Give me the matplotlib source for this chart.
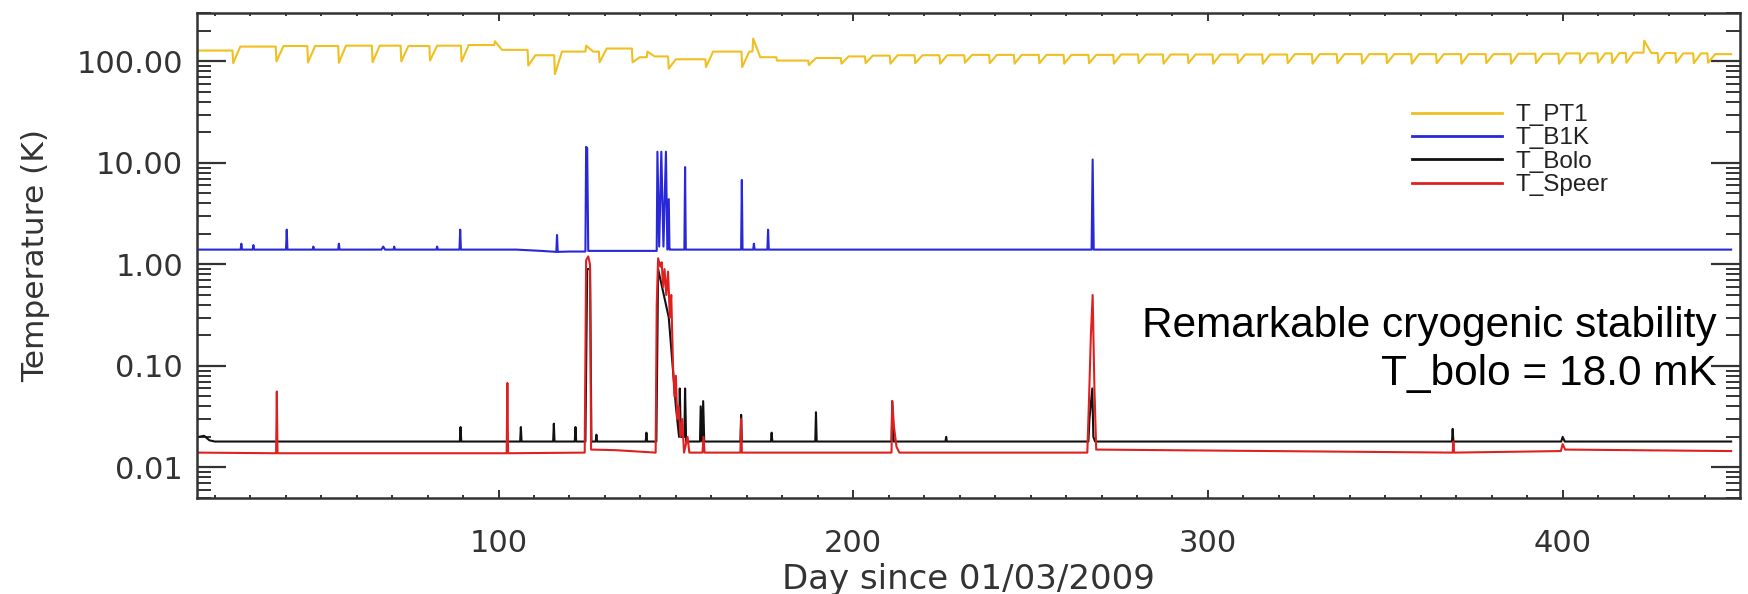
import matplotlib
matplotlib.use("Agg")
import matplotlib.pyplot as plt
from matplotlib.ticker import FixedLocator, LogLocator, NullFormatter, FuncFormatter

# ---- data (day since 01/03/2009, temperature in K) ----

# T_PT1: plateau levels between the sharp dips / bumps of the pulse tube
pt1_event_day = [25.2, 37.4, 46.3, 55.0, 64.5, 72.6, 80.7, 89.6, 99.0, 108.4,
                 115.9, 124.7, 128.5, 137.8, 142.0, 148.0, 158.5, 168.7, 171.8, 178.5,
                 187.5, 196.7, 203.5, 210.5, 217.5, 224.5, 231.5, 238.5, 245.5, 252.5,
                 259.5, 266.5, 273.5, 280.5, 287.5, 294.5, 301.5, 308.5, 315.5, 322.5,
                 329.5, 336.5, 343.5, 350.5, 357.5, 364.5, 371.5, 378.5, 385.5, 392.5,
                 399.0, 405.0, 410.0, 414.0, 418.0, 423.0, 427.0, 432.0, 437.0, 441.0]
pt1_event_k = [96, 100, 98, 97, 98, 100, 102, 100, 158, 91,
               75, 143, 98, 98, 125, 85, 88, 88, 168, 102,
               92, 95, 96, 95, 96, 95, 97, 96, 95, 96,
               95, 96, 95, 96, 95, 96, 95, 96, 95, 96,
               95, 96, 95, 96, 95, 96, 95, 96, 95, 96,
               95, 96, 97, 96, 97, 160, 96, 97, 96, 97]
pt1_plateau_k = [128, 140, 142, 142, 143, 143, 142, 143, 145, 130,
                 115, 125, 125, 134, 110, 112, 105, 125, 125, 110,
                 102, 108, 112, 114, 115, 115, 115, 116, 116, 116,
                 116, 116, 116, 117, 117, 117, 117, 117, 117, 117,
                 118, 118, 118, 118, 118, 118, 118, 118, 118, 119,
                 119, 120, 120, 120, 121, 122, 121, 121, 120, 120, 118]

# T_B1K
b1k_day = [15.5,
           27.3, 27.5, 27.7, 30.7, 30.9, 31.1, 40.1, 40.3, 40.5,
           47.6, 47.8, 48.0, 54.8, 55.0, 55.2, 67.0, 67.5, 68.0,
           70.4, 70.6, 70.8, 82.5, 82.7, 82.9, 89.0, 89.2, 89.4,
           105.0, 112.0, 116.3, 116.5, 116.7, 120.0,
           124.5, 124.7, 125.0, 125.3, 135.0,
           144.6, 144.8, 145.3, 145.9, 146.5, 147.2, 147.6, 148.0, 148.2, 148.5,
           152.4, 152.6, 152.8, 168.4, 168.6, 168.8, 171.8, 172.0, 172.2,
           175.8, 176.0, 176.2, 267.2, 267.5, 267.8, 447.5]
b1k_k = [1.40,
         1.40, 1.60, 1.40, 1.40, 1.55, 1.40, 1.40, 2.20, 1.40,
         1.40, 1.50, 1.40, 1.40, 1.60, 1.40, 1.40, 1.50, 1.40,
         1.40, 1.50, 1.40, 1.40, 1.50, 1.40, 1.40, 2.20, 1.40,
         1.40, 1.36, 1.33, 1.95, 1.33, 1.34,
         1.34, 14.4, 14.0, 1.36, 1.36,
         1.36, 12.9, 1.50, 12.9, 1.50, 12.9, 1.40, 4.40, 1.40, 1.40,
         1.40, 9.10, 1.40, 1.40, 6.80, 1.40, 1.40, 1.60, 1.40,
         1.40, 2.20, 1.40, 1.40, 10.8, 1.40, 1.40]

# T_Bolo
bolo_day = [15.5, 17.0, 18.5, 20.0,
            89.1, 89.3, 89.5, 106.1, 106.3, 106.5, 115.4, 115.6, 115.8,
            121.5, 121.7, 121.9, 124.5, 125.0, 125.8, 126.2, 127.4, 127.6, 127.8,
            141.5, 141.7, 141.9, 144.5, 145.0, 148.0, 150.0, 150.9, 151.1,
            151.4, 152.4, 152.6, 152.9, 156.8, 157.0, 157.4, 157.7, 158.0,
            168.2, 168.4, 168.6, 176.8, 177.0, 177.2, 189.3, 189.5, 189.7,
            210.8, 211.0, 211.4, 226.0, 226.2, 226.4, 266.3, 266.6, 267.4, 267.7, 268.2,
            368.8, 369.0, 369.2, 399.6, 400.0, 400.6, 447.5]
bolo_k = [0.0200, 0.0205, 0.0185, 0.0180,
          0.0180, 0.0250, 0.0180, 0.0180, 0.0250, 0.0180, 0.0180, 0.0270, 0.0180,
          0.0180, 0.0250, 0.0180, 0.0180, 0.9000, 0.9000, 0.0180, 0.0180, 0.0210, 0.0180,
          0.0180, 0.0220, 0.0180, 0.0180, 0.9000, 0.3000, 0.0400, 0.0200, 0.0600,
          0.0200, 0.0200, 0.0600, 0.0180, 0.0180, 0.0400, 0.0180, 0.0450, 0.0180,
          0.0180, 0.0330, 0.0180, 0.0180, 0.0220, 0.0180, 0.0180, 0.0350, 0.0180,
          0.0180, 0.0450, 0.0180, 0.0180, 0.0200, 0.0180, 0.0180, 0.0300, 0.0600, 0.0200, 0.0180,
          0.0180, 0.0240, 0.0180, 0.0180, 0.0200, 0.0180, 0.0180]

# T_Speer
speer_day = [15.5, 37.3, 37.5, 37.7, 102.3, 102.5, 102.7, 124.3,
             124.7, 125.3, 125.8, 126.1, 133.0, 144.3,
             144.6, 145.0, 145.6, 146.0, 146.4, 146.8, 147.3, 147.8, 148.3, 148.7,
             149.2, 149.6, 150.0, 150.4, 150.8, 151.3, 151.8, 152.3, 153.3, 153.8,
             157.5, 157.8, 158.1, 168.2, 168.4, 168.6,
             210.8, 211.0, 211.5, 212.2, 213.0,
             266.0, 266.5, 267.0, 267.5, 268.0, 268.5,
             369.0, 369.2, 369.4, 399.5, 400.0, 400.7, 447.5]
speer_k = [0.0140, 0.0138, 0.056, 0.0138, 0.0138, 0.068, 0.0138, 0.0140,
           1.10, 1.20, 1.00, 0.0150, 0.0148, 0.0140,
           0.40, 1.15, 0.95, 1.05, 0.60, 0.90, 0.50, 0.85, 0.30, 0.50,
           0.10, 0.05, 0.08, 0.03, 0.04, 0.020, 0.030, 0.0140, 0.020, 0.0140,
           0.0140, 0.020, 0.0140, 0.0140, 0.030, 0.0140,
           0.0140, 0.045, 0.025, 0.016, 0.0140,
           0.0140, 0.050, 0.20, 0.50, 0.060, 0.0150,
           0.0140, 0.018, 0.0140, 0.0145, 0.017, 0.0150, 0.0145]

PT1_START, PT1_END = 15.5, 447.5

COL_PT1 = '#f0c020'
COL_B1K = '#2828d8'
COL_BOLO = '#111111'
COL_SPEER = '#e02020'
AXCOL = '#333333'


def pt1_path(days, peaks, levels):
    # flat plateau, sharp dip/bump at each event, recovery to the next plateau
    xs, ys = [PT1_START], [levels[0]]
    for i, (d, p) in enumerate(zip(days, peaks)):
        xs += [d - 0.2, d, d + 2.0]
        ys += [levels[i], p, levels[i + 1]]
    xs.append(PT1_END)
    ys.append(levels[-1])
    return xs, ys


fig = plt.figure(figsize=(17.48, 5.94), dpi=100)
ax = fig.add_axes([197 / 1748, 1 - 498 / 594, (1740 - 197) / 1748, (498 - 13) / 594])

x_pt1, y_pt1 = pt1_path(pt1_event_day, pt1_event_k, pt1_plateau_k)
ax.plot(x_pt1, y_pt1, color=COL_PT1, lw=1.5, label='T_PT1')
ax.plot(b1k_day, b1k_k, color=COL_B1K, lw=1.5, label='T_B1K')
ax.plot(bolo_day, bolo_k, color=COL_BOLO, lw=1.5, label='T_Bolo')
ax.plot(speer_day, speer_k, color=COL_SPEER, lw=1.5, label='T_Speer')

ax.set_yscale('log')
ax.set_xlim(15, 450)
ax.set_ylim(0.005, 300)

ax.xaxis.set_major_locator(FixedLocator([100, 200, 300, 400]))
ax.xaxis.set_minor_locator(FixedLocator(list(range(20, 450, 10))))
ax.yaxis.set_major_locator(FixedLocator([0.01, 0.1, 1, 10, 100]))
ax.yaxis.set_minor_locator(LogLocator(base=10, subs=range(2, 10)))
ax.yaxis.set_minor_formatter(NullFormatter())
ax.yaxis.set_major_formatter(FuncFormatter(lambda v, p: f"{v:.2f}"))

ax.tick_params(axis='x', which='major', direction='in', length=6, width=1.4,
               top=True, bottom=True, labelsize=22, pad=22, colors=AXCOL)
ax.tick_params(axis='x', which='minor', direction='in', length=2.5, width=1.4,
               top=True, bottom=True, colors=AXCOL)
ax.tick_params(axis='y', which='major', direction='in', length=21, width=1.6,
               left=True, right=True, labelsize=22, pad=10, colors=AXCOL)
ax.tick_params(axis='y', which='minor', direction='in', length=10, width=1.4,
               left=True, right=True, colors=AXCOL)
for s in ax.spines.values():
    s.set_linewidth(1.8)
    s.set_color(AXCOL)

ax.set_xlabel('Day since 01/03/2009', fontsize=24.5, color=AXCOL)
ax.xaxis.set_label_coords(0.5, -0.135)
ax.set_ylabel('Temperature (K)', fontsize=22.5, color=AXCOL)
ax.yaxis.set_label_coords(-0.095, 0.5)

ax.text(0.985, 0.332, 'Remarkable cryogenic stability', transform=ax.transAxes,
        ha='right', va='baseline', fontsize=30.5, family='Liberation Sans', color='black')
ax.text(0.985, 0.233, 'T_bolo = 18.0 mK', transform=ax.transAxes,
        ha='right', va='baseline', fontsize=30.5, family='Liberation Sans', color='black')

leg = ax.legend(loc='upper left', bbox_to_anchor=(1412 / 1748, 1 - 104 / 594),
                bbox_transform=fig.transFigure, frameon=False, borderpad=0,
                prop={'family': 'Liberation Sans', 'size': 17.5},
                handlelength=3.7, handletextpad=0.55, labelspacing=0.06,
                borderaxespad=0)
for line in leg.get_lines():
    line.set_linewidth(2.0)
for t in leg.get_texts():
    t.set_color('#222222')

fig.savefig('out.png', dpi=100)
